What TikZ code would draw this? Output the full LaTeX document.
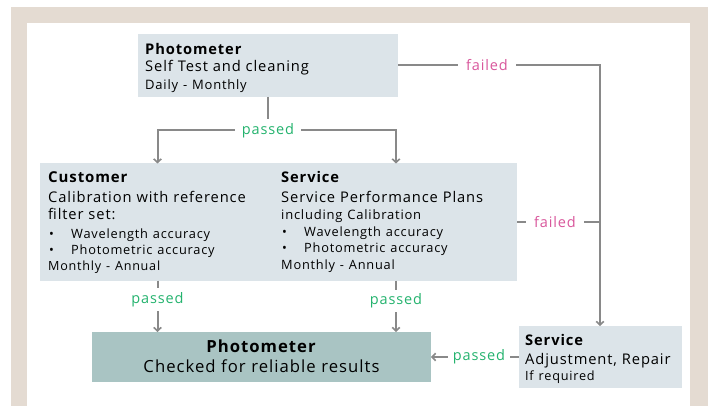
\documentclass[tikz,border=0pt]{standalone}
\usepackage{fontspec}
\setmainfont{Open Sans}[LetterSpace=6]
\usetikzlibrary{arrows.meta,calc}
\definecolor{beige}{HTML}{E4DBD2}
\definecolor{boxfill}{HTML}{DCE4E9}
\definecolor{resfill}{HTML}{A9C4C3}
\definecolor{linegray}{HTML}{898989}
\definecolor{passgreen}{HTML}{24B36E}
\definecolor{failpink}{HTML}{D9579C}
\newcommand{\fs}[1]{\fontsize{#1}{#1}\selectfont}
\newcommand{\bul}[1]{\makebox[23pt][l]{\kern1pt\textbullet}#1}
\tikzset{
  box/.style={fill=boxfill, draw=none, inner sep=0pt, outer sep=0pt},
  resbox/.style={fill=resfill, draw=none, inner sep=0pt, outer sep=0pt},
  txt/.style={inner sep=0pt, anchor=base west, text width=#1, align=left},
  conn/.style={draw=linegray, line width=2pt},
  arr/.style={conn, -{Straight Barb[length=3.5pt,width=7.5pt,line width=1.6pt]}},
  passlbl/.style={fill=white, text=passgreen, font=\fs{14.5}, inner xsep=7pt, inner ysep=4pt},
  faillbl/.style={fill=white, text=failpink, font=\fs{14.5}, inner xsep=8pt, inner ysep=4pt},
}
\begin{document}
\begin{tikzpicture}[x=1pt,y=-1pt]
\useasboundingbox (0,0) rectangle (715,406);
\fill[beige] (11,7) rectangle (708,406);
\fill[white] (27,23) rectangle (690,406);

% boxes
\node[box, minimum width=260pt, minimum height=63pt] (top) at (268,65.5) {};
\node[box, minimum width=236pt, minimum height=117pt] (cust) at (157.5,222) {};
\node[box, minimum width=242pt, minimum height=117pt] (serv) at (396,222) {};
\node[resbox, minimum width=339pt, minimum height=50pt] (res) at (261.5,357) {};
\node[box, minimum width=163pt, minimum height=62pt] (rep) at (600,357) {};

% texts
\node[txt=250pt, font=\fs{14.7}] (toptxt) at (145,55) {\textbf{Photometer}\\[2.3pt]
Self Test and cleaning\\[3.3pt]
{\fs{13}Daily - Monthly}};

\node[txt=225pt, font=\fs{14.7}] (custtxt) at (48,182.7) {{\fs{15}\textbf{Customer}}\\[5.3pt]
Calibration with reference\\[2.6pt]
filter set:\\[3.8pt]
{\fs{12.8}\bul{Wavelength accuracy}}\\[1.2pt]
{\fs{12.8}\bul{Photometric accuracy}}\\[1.7pt]
{\fs{12.6}Monthly - Annual}};

\node[txt=235pt, font=\fs{14.7}] (servtxt) at (281,182.7) {\textbf{Service}\\[5.3pt]
Service Performance Plans\\[2pt]
{\fs{13}including Calibration}\\[2.2pt]
{\fs{12.8}\bul{Wavelength accuracy}}\\[2pt]
{\fs{12.8}\bul{Photometric accuracy}}\\[2pt]
{\fs{12.8}Monthly - Annual}};

\node[inner sep=0pt, anchor=base, text width=330pt, align=center, font=\fs{16.7}] (restxt) at (261.5,352.7) {\textbf{Photometer}\\[3.3pt]
Checked for reliable results\hspace*{12pt}};

\node[txt=155pt, font=\fs{14.7}] (reptxt) at (525,345) {\textbf{Service}\\[4.3pt]
Adjustment, Repair\\[2pt]
{\fs{12.7}If required}};

% connectors
\coordinate (split) at (268,130.5);
\draw[conn] (top.south) -- (split);
\draw[arr] (split) -| (cust.north);
\draw[arr] (split) -| (serv.north);
\node[passlbl] (p1) at (split) {passed};

\draw[arr] (top.east) -| (rep.north);
\node[faillbl] (f1) at (487,65.5) {failed};

\draw[conn] (serv.east) -- (serv.east -| rep.north);
\node[faillbl] (f2) at (555,222) {failed};

\draw[arr] (cust.south) -- (res.north -| cust.south);
\node[passlbl] (p2) at (157.5,299.5) {passed};
\draw[arr] (serv.south) -- (res.north -| serv.south);
\node[passlbl] (p3) at (396,301) {passed};

\draw[arr] (rep.west) -- (res.east);
\node[passlbl, inner xsep=5pt] (p4) at (479,357) {passed};
\end{tikzpicture}
\end{document}
